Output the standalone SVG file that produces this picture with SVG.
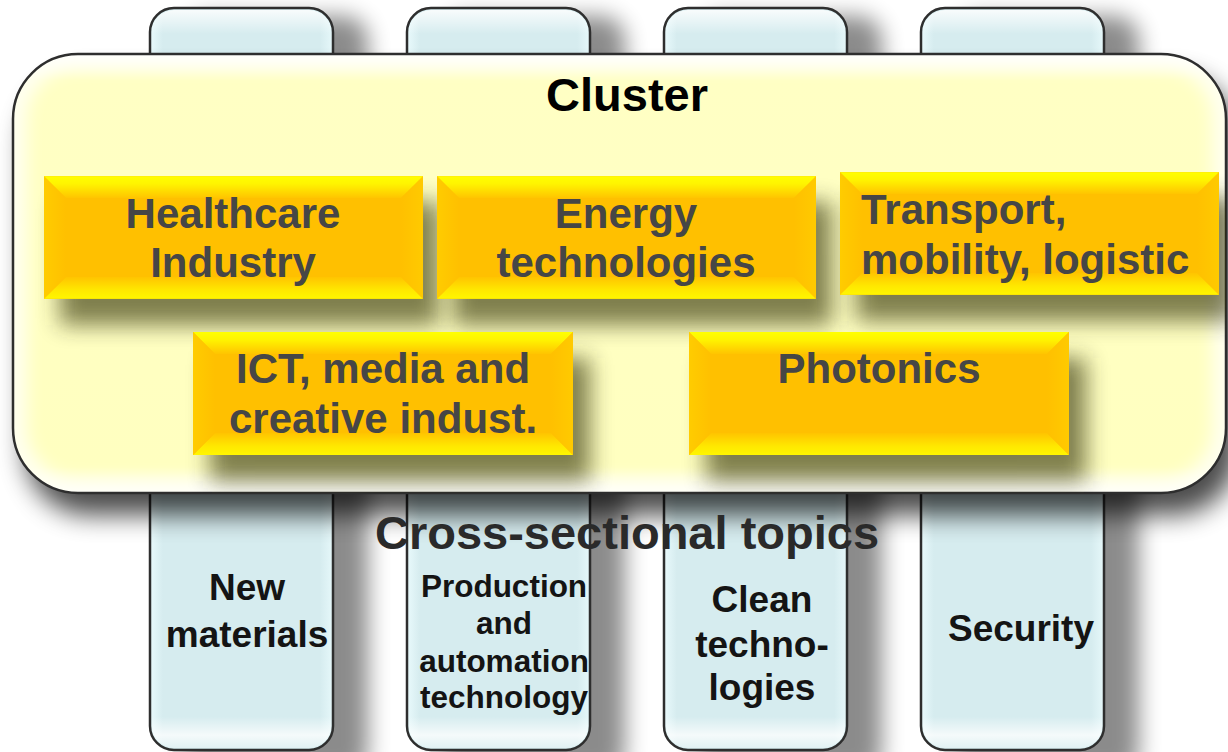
<svg xmlns="http://www.w3.org/2000/svg" width="1228" height="752" viewBox="0 0 1228 752">
<defs>
<style>
.pillar{stroke:#2e2e2e;stroke-width:2.5;fill:url(#pillarFill)}
.pshine{fill:url(#pillarShine);stroke:none}
.pshadow{fill:#000;opacity:0.45;filter:url(#blurP)}
.bshadow{fill:#2a2a00;opacity:0.6;filter:url(#blurB)}
.t{font-family:"Liberation Sans",Arial,Helvetica,sans-serif;font-weight:bold;text-anchor:middle}
.box{fill:#464646;font-size:42px}
.pl{fill:#141414}
</style>
<linearGradient id="pillarFill" x1="0" y1="0" x2="1" y2="0">
<stop offset="0" stop-color="#E9FAFC"/>
<stop offset="0.07" stop-color="#D6ECEF"/>
<stop offset="0.93" stop-color="#D6ECEF"/>
<stop offset="1" stop-color="#E6F8FA"/>
</linearGradient>
<linearGradient id="pillarShine" gradientUnits="userSpaceOnUse" x1="0" y1="8" x2="0" y2="750">
<stop offset="0" stop-color="#fff" stop-opacity="0.9"/>
<stop offset="0.035" stop-color="#fff" stop-opacity="0"/>
<stop offset="0.955" stop-color="#fff" stop-opacity="0"/>
<stop offset="0.98" stop-color="#fff" stop-opacity="0.75"/>
<stop offset="1" stop-color="#fff" stop-opacity="0.2"/>
</linearGradient>
<linearGradient id="clusterFill" x1="0" y1="0" x2="0" y2="1">
<stop offset="0" stop-color="#FFFFF4"/>
<stop offset="0.06" stop-color="#FFFFC4"/>
<stop offset="0.94" stop-color="#FFFFC0"/>
<stop offset="1" stop-color="#FFFFE6"/>
</linearGradient>
<linearGradient id="bvTop" x1="0" y1="0" x2="0" y2="1">
<stop offset="0" stop-color="#FFFF00"/>
<stop offset="0.35" stop-color="#FFF400"/>
<stop offset="1" stop-color="#FFC400"/>
</linearGradient>
<linearGradient id="bvBot" x1="0" y1="0" x2="0" y2="1">
<stop offset="0" stop-color="#FFC400"/>
<stop offset="0.6" stop-color="#FFE800"/>
<stop offset="1" stop-color="#FFF600"/>
</linearGradient>
<linearGradient id="bvLeft" x1="0" y1="0" x2="1" y2="0">
<stop offset="0" stop-color="#FFCC00"/>
<stop offset="1" stop-color="#FFC000"/>
</linearGradient>
<linearGradient id="bvRight" x1="0" y1="0" x2="1" y2="0">
<stop offset="0" stop-color="#FFC000"/>
<stop offset="1" stop-color="#FFCA00"/>
</linearGradient>
<filter id="blurP" x="-40%" y="-10%" width="180%" height="120%"><feGaussianBlur stdDeviation="11"/></filter>
<filter id="blurC" x="-10%" y="-20%" width="120%" height="140%"><feGaussianBlur stdDeviation="13"/></filter>
<filter id="blurB" x="-20%" y="-50%" width="140%" height="200%"><feGaussianBlur stdDeviation="11"/></filter>
<filter id="blurG" x="-10%" y="-10%" width="120%" height="120%"><feGaussianBlur stdDeviation="9"/></filter>
<clipPath id="clusterClip"><rect x="13" y="54" width="1213" height="439" rx="65"/></clipPath>
<symbol id="bevel" viewBox="0 0 380 123">
<rect x="0" y="0" width="380" height="123" fill="#FFC000"/>
<polygon points="0,0 380,0 358,22 22,22" fill="url(#bvTop)"/>
<polygon points="0,123 380,123 358,101 22,101" fill="url(#bvBot)"/>
<polygon points="0,0 22,22 22,101 0,123" fill="url(#bvLeft)"/>
<polygon points="380,0 358,22 358,101 380,123" fill="url(#bvRight)"/>
</symbol>
</defs>
<rect width="1228" height="752" fill="#fff"/>

<g id="pillar-shadows">
<rect class="pshadow" x="185" y="16" width="183" height="760" rx="24"/>
<rect class="pshadow" x="442" y="16" width="183" height="760" rx="24"/>
<rect class="pshadow" x="699" y="16" width="183" height="760" rx="24"/>
<rect class="pshadow" x="956" y="16" width="183" height="760" rx="24"/>
</g>

<g id="pillar-new-materials">
<rect class="pillar" x="150" y="8" width="183" height="742" rx="24"/>
<rect class="pshine" x="152" y="10" width="179" height="738" rx="22"/>
</g>
<g id="pillar-production">
<rect class="pillar" x="407" y="8" width="183" height="742" rx="24"/>
<rect class="pshine" x="409" y="10" width="179" height="738" rx="22"/>
</g>
<g id="pillar-clean">
<rect class="pillar" x="664" y="8" width="183" height="742" rx="24"/>
<rect class="pshine" x="666" y="10" width="179" height="738" rx="22"/>
</g>
<g id="pillar-security">
<rect class="pillar" x="921" y="8" width="183" height="742" rx="24"/>
<rect class="pshine" x="923" y="10" width="179" height="738" rx="22"/>
</g>

<g id="cluster">
<rect x="25" y="76" width="1213" height="439" rx="65" fill="#000" opacity="0.7" filter="url(#blurC)"/>
<rect x="13" y="54" width="1213" height="439" rx="65" fill="url(#clusterFill)"/>
<g clip-path="url(#clusterClip)">
<rect x="13" y="54" width="1213" height="439" rx="65" fill="none" stroke="#ffffff" stroke-width="26" opacity="0.8" filter="url(#blurG)"/>
</g>
<rect x="13" y="54" width="1213" height="439" rx="65" fill="none" stroke="#2e2e2e" stroke-width="2.5"/>
<text class="t" x="627" y="111" font-size="47" fill="#000">Cluster</text>
</g>

<g id="box-shadows" clip-path="url(#clusterClip)">
<rect class="bshadow" x="60" y="202" width="379" height="123"/>
<rect class="bshadow" x="453" y="202" width="379" height="123"/>
<rect class="bshadow" x="856" y="198" width="379" height="123"/>
<rect class="bshadow" x="210" y="358" width="380" height="123"/>
<rect class="bshadow" x="706" y="358" width="380" height="123"/>
</g>

<g id="healthcare">
<use href="#bevel" x="44" y="176" width="379" height="123"/>
<text class="t box" x="233" y="228">Healthcare</text>
<text class="t box" x="233" y="277">Industry</text>
</g>
<g id="energy">
<use href="#bevel" x="437" y="176" width="379" height="123"/>
<text class="t box" x="626" y="228">Energy</text>
<text class="t box" x="626" y="277">technologies</text>
</g>
<g id="transport">
<use href="#bevel" x="840" y="172" width="379" height="123"/>
<text class="t box" x="861" y="224" style="text-anchor:start">Transport,</text>
<text class="t box" x="861" y="274" style="text-anchor:start">mobility, logistic</text>
</g>
<g id="ict">
<use href="#bevel" x="193" y="332" width="380" height="123"/>
<text class="t box" x="383" y="383">ICT, media and</text>
<text class="t box" x="383" y="433">creative indust.</text>
</g>
<g id="photonics">
<use href="#bevel" x="689" y="332" width="380" height="123"/>
<text class="t box" x="879" y="383">Photonics</text>
</g>

<g id="cross-sectional-title">
<text class="t" x="627" y="549" font-size="47" fill="#2a2a2a">Cross-sectional topics</text>
</g>

<g id="pillar-labels">
<text class="t pl" x="247" y="600" font-size="37">New</text>
<text class="t pl" x="247" y="647" font-size="37">materials</text>
<text class="t pl" x="504" y="597" font-size="31.5">Production</text>
<text class="t pl" x="504" y="634" font-size="31.5">and</text>
<text class="t pl" x="504" y="672" font-size="31.5">automation</text>
<text class="t pl" x="504" y="708" font-size="31.5">technology</text>
<text class="t pl" x="762" y="612" font-size="37" fill="#000">Clean</text>
<text class="t pl" x="762" y="657" font-size="37" fill="#000">techno-</text>
<text class="t pl" x="762" y="700" font-size="37" fill="#000">logies</text>
<text class="t pl" x="1021" y="641" font-size="37">Security</text>
</g>
</svg>
